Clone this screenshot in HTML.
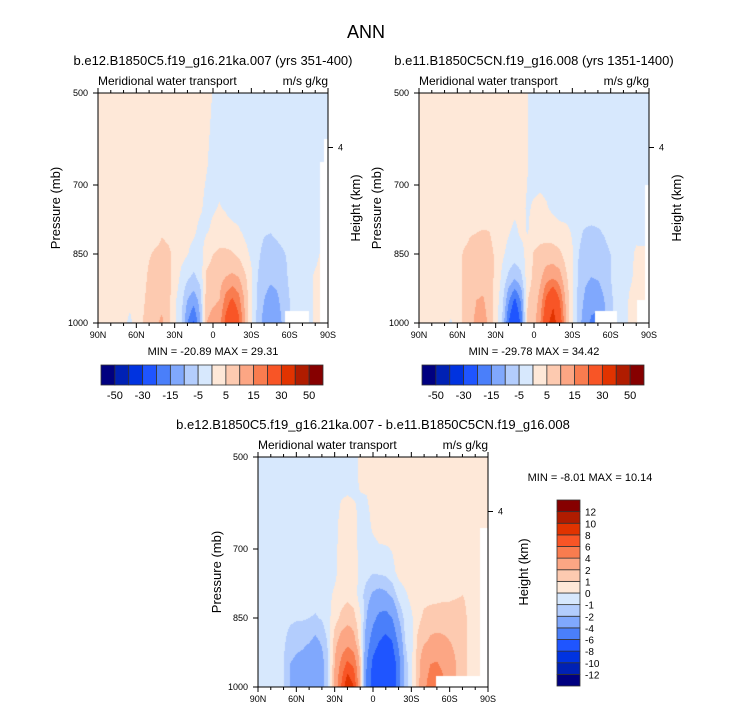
<!DOCTYPE html>
<html><head><meta charset="utf-8">
<style>
html,body{margin:0;padding:0;background:#fff;}
#root{position:relative;width:733px;height:712px;overflow:hidden;font-family:"Liberation Sans",sans-serif;}
canvas{position:absolute;}
svg{position:absolute;left:0;top:0;}
</style></head>
<body>
<div id="root">
<canvas id="c1" width="230" height="230" style="left:98px;top:93px"></canvas>
<canvas id="c2" width="230" height="230" style="left:419px;top:93px"></canvas>
<canvas id="c3" width="230" height="230" style="left:258px;top:457px"></canvas>
<svg id="ov" width="733" height="712"></svg>
</div>
<script>
// ---- data ----
const latDeg = [0,5,10,15,20,25,30,35,40,45,50,55,60,65,70,75,80,85,90,95,100,105,110,115,120,125,130,135,140,145,150,155,160,165,170,175,180];
const pressures = [500,650,750,800,850,900,950,1000];
const levelsAbs = [-50,-40,-30,-20,-15,-10,-5,0,5,10,15,20,30,40,50];
const levelsDiff = [-12,-10,-8,-6,-4,-2,-1,0,1,2,4,6,8,10,12];
const absLabels = ["-50","-30","-15","-5","5","15","30","50"];
const diffLabels = ["-12","-10","-8","-6","-4","-2","-1","0","1","2","4","6","8","10","12"];
const xTickLabels = ["90N","60N","30N","0","30S","60S","90S"];
const yTickLabels = ["500","700","850","1000"];
const palette = ["#000080","#0021b4","#0033e0","#1f55ff","#4a7ffa","#80a8fd","#b3cdfd","#d7e8fd","#fee8d8","#fdcab0","#fca684","#f97c4f","#f85526","#e13300","#b01c00","#860000"];

const field1 = [
[2,2,2,2,2,2,2,2,2,2,2,2,2,2,2,2,2,2,-0.3,-2,-2,-2,-2,-2,-2,-2,-2,-2,-2,-2,-2,-2,-2,-2,-2,-2,-2],
[2,2,2,2,2,2,2,2,2,2,2,2,2,2,2,2,2,0.5,-2,-2,-2,-2,-2,-2,-2,-2,-2,-2,-2,-2,-2,-2,-2,-2,-2,-2,-2],
[2,2,2,2,2,2,2,2,2,2,2,2,2,2,2,2,0.8,-1.5,-0.5,0.3,-0.5,-2,-2,-2,-2,-2,-2,-2,-2,-2,-2,-2,-2,-2,-2,-2,-2],
[2,2,2,2,2,2,2,2,2,2,4.5,3.5,2,2,1.5,1,-1.5,-0.5,1,2,2,1.5,0.5,-1,-2,-3,-4.5,-4.8,-4,-3,-2.5,-2,-2,-2,-2,-2,-2],
[2,2,2,2,2,2,2,3,4.5,6,6.5,6,4,1.5,0.3,-2,-2,3,5,6,6,5.5,4,1.5,-1,-4,-6.5,-7,-6.5,-5.5,-4,-2.5,-1.5,-1,-0.5,0.3,0.5],
[2,2,2,2,2,2,2,3,6,7,7.5,6.5,3,-1,-4,-6,-3,6,7,8,10,11,10,6,1,-5,-8,-9,-8.5,-7,-4,-2,-1,-0.5,0.3,0.5,0.5],
[2,2,2,2,2,1,2,4,7,8,8.5,7,1,-3,-10,-13,-8,8,9,10,17,21,17,9,1,-6,-10,-12,-11,-8,-5,-2,-1,-0.5,0.3,0.5,0.5],
[2,2,2,2,1,-1,2,5,8,9,11,7,1,-4,-15,-21,-10,10,12,13,22,29,22,10,1,-7,-12,-14,-13,-9,-5,-2,-1,-0.5,0.3,0.5,0.5]
];
const field2 = [
[2,2,2,2,2,2,2,2,2,2,2,2,2,2,2,2,2,0.3,-2,-2,-2,-2,-2,-2,-2,-2,-2,-2,-2,-2,-2,-2,-2,-2,-2,-2,-2],
[2,2,2,2,2,2,2,2,2,2,2,2,2,2,2,2,2,0.2,-2,-2,-2,-2,-2,-2,-2,-2,-2,-2,-2,-2,-2,-2,-2,-2,-2,-2,-2],
[2,2,2,2,2,2,2,2,2,2,2,2,2,2,1.5,1,1,-0.5,0.5,1,0.3,-1,-2,-2,-2,-2,-2,-2,-2,-2,-2,-2,-2,-2,-2,-2,-2],
[2,2,2,2,2,2,2,3,4.5,4.8,5.2,5,3,2,0.5,-1,1,-0.3,2,3,3,2.5,1.5,1,-0.5,-4,-5.5,-6,-5.5,-4.5,-3,-2,-2,-1,-0.5,-1,-1],
[2,2,2,2,2,2,3,5.5,6.5,7,7.5,7,4,1,-1.5,-2.5,-1.5,2,5.5,6.5,7,7,6,3,0.5,-5,-7,-8,-7.5,-6.5,-5,-3,-1.5,-0.5,0.3,0.5,0.5],
[2,2,2,2,2,2,3,6,7,7.5,8,7,4,-1,-6,-9,-6,3,6,9,13,14,12,6,1,-6,-9,-10,-9.5,-8,-5,-3,-1,-0.3,0.4,0.5,0.5],
[2,2,2,2,2,2,3,6,8,10,10.5,8,3,-3,-14,-21,-14,5,7,12,22,28,20,9,1,-7,-11,-13,-13,-10,-6,-3,-1,0.3,0.5,0.5,0.5],
[2,2,2,2,1,-0.5,2,6,9,11,12,9,2,-5,-20,-29,-18,6,8,15,28,34,25,10,1,-8,-13,-16,-17,-12,-6,-3,-1,0.3,0.5,0.5,0.5]
];
const field3 = [
[-0.5,-0.5,-0.5,-0.5,-0.5,-0.5,-0.5,-0.5,-0.5,-0.5,-0.5,-0.5,-0.5,-0.5,-0.5,-0.5,0.3,0.5,0.5,0.5,0.5,0.5,0.5,0.5,0.5,0.5,0.5,0.5,0.5,0.5,0.5,0.5,0.5,0.5,0.5,0.5,0.5],
[-0.5,-0.5,-0.5,-0.5,-0.5,-0.5,-0.5,-0.5,-0.5,-0.5,-0.5,-0.5,-0.3,0.3,0.4,0.3,-0.3,-0.4,0.2,0.5,0.5,0.4,0.5,0.5,0.5,0.5,0.5,0.5,0.5,0.5,0.5,0.5,0.5,0.5,0.5,0.5,0.5],
[-0.5,-0.5,-0.5,-0.5,-0.5,-0.5,-0.5,-0.5,-0.5,-0.5,-0.5,-0.5,-0.3,0.5,0.6,0.5,-0.3,-0.6,-0.9,-0.8,-0.7,-0.3,0.3,0.5,0.5,0.5,0.5,0.5,0.5,0.5,0.5,0.5,0.5,0.5,0.5,0.5,0.5],
[-0.5,-0.5,-0.5,-0.5,-0.5,-0.5,-0.5,-0.5,-0.5,-0.6,-0.5,-0.3,0.2,0.6,0.8,0.6,-0.5,-1.5,-2.2,-2.5,-2.3,-1.8,-0.6,-0.2,0.3,0.6,0.7,0.7,0.7,0.8,0.8,0.9,1.0,0.8,0.5,0.5,0.5],
[-0.5,-0.5,-0.5,-0.5,-0.6,-0.8,-0.9,-0.9,-1,-1.1,-0.9,-0.3,0.6,1.2,1.5,1.3,0.2,-2,-3.5,-4.5,-4.8,-4,-2,-0.7,-0.2,0.7,1.2,1.4,1.5,1.5,1.5,1.5,1.4,0.8,0.3,0.5,0.5],
[-0.5,-0.5,-0.5,-0.5,-0.8,-1.4,-1.6,-1.7,-1.9,-2.3,-1.8,-0.8,1.5,2.5,3.2,2.5,0.5,-3,-5,-6,-6.5,-6,-3.5,-1,-0.3,1.2,1.8,2.2,2.3,2.2,2,1.8,1.5,0.8,0.3,0.5,0.5],
[-0.5,-0.5,-0.5,-0.5,-1,-2,-2.3,-2.5,-3,-3.3,-2.5,-1,2,4.5,6.5,5.5,1.5,-4,-6.5,-7.5,-8,-7.5,-5,-1.5,-0.3,1.5,3,4,4.2,3.5,2.5,2,1.5,0.8,0.3,0.5,0.5],
[-0.5,-0.5,-0.5,-0.5,-1,-2,-2.5,-3,-3.5,-3.5,-2.5,-1,2.5,6,10,8,2,-4.5,-7,-8,-8,-7.5,-5,-1.5,-0.3,1.5,3.5,5,5.5,4.5,3,2,1.5,0.8,0.3,0.5,0.5]
];
// missing-data masks: [latFrom, latTo, pFrom, pTo]
const mask1 = [[146,165,975,1000],[174,180,650,1000],[177,180,600,650]];
const mask2 = [[138,155,975,1000],[177,180,700,1000],[171,180,950,1000]];
const mask3 = [[139,180,977,1000],[174,180,655,1000]];

// ---- render ----
function hex(c){return [parseInt(c.substr(1,2),16),parseInt(c.substr(3,2),16),parseInt(c.substr(5,2),16)];}
const rgb = palette.map(hex);
function sample(field, deg, p){
  let j=Math.min(Math.floor(deg/5),latDeg.length-2); let tx=(deg-latDeg[j])/5;
  let i=0; while(i<pressures.length-2 && p>pressures[i+1]) i++;
  let ty=(p-pressures[i])/(pressures[i+1]-pressures[i]);
  const a=field[i][j],b=field[i][j+1],c=field[i+1][j],d=field[i+1][j+1];
  return (a*(1-tx)+b*tx)*(1-ty)+(c*(1-tx)+d*tx)*ty;
}
function draw(id, field, levels, mask){
  const cv=document.getElementById(id), ctx=cv.getContext('2d');
  const W=cv.width,H=cv.height, img=ctx.createImageData(W,H);
  for(let y=0;y<H;y++){ const p=500+(y+0.5)/H*500;
    for(let x=0;x<W;x++){ const deg=(x+0.5)/W*180;
      let col=[255,255,255], masked=false;
      for(const m of mask){ if(deg>=m[0]&&deg<=m[1]&&p>=m[2]&&p<=m[3]) masked=true; }
      if(!masked){ const v=sample(field,deg,p); let k=0; while(k<levels.length && v>=levels[k]) k++; col=rgb[k]; }
      const o=(y*W+x)*4; img.data[o]=col[0];img.data[o+1]=col[1];img.data[o+2]=col[2];img.data[o+3]=255;
    }}
  ctx.putImageData(img,0,0);
}
draw('c1',field1,levelsAbs,mask1);
draw('c2',field2,levelsAbs,mask2);
draw('c3',field3,levelsDiff,mask3);

const NS="http://www.w3.org/2000/svg", ov=document.getElementById('ov');
function el(tag, attrs, parent){ const e=document.createElementNS(NS,tag); for(const k in attrs) e.setAttribute(k,attrs[k]); (parent||ov).appendChild(e); return e; }
function txt(x,y,s,size,anchor,parent,rot){ const t=el('text',{x:x,y:y,'font-size':size,'text-anchor':anchor||'middle','font-family':'Liberation Sans, sans-serif',fill:'#000'},parent); if(rot) t.setAttribute('transform','rotate(-90 '+x+' '+y+')'); t.textContent=s; return t; }

function panel(px,py,name,title,titleY,yTitleX,hTitleX){
  const W=230,H=230;
  const g=el('g',{});
  
  
  const tt=txt(px+W/2,titleY,title,13,'middle',g);
  
  
  const l=txt(px,py-8,'Meridional water transport',12,'start',g);
  
  
  const u=txt(px+W,py-8,'m/s g/kg',12,'end',g);
  
  
  const fr=el('rect',{x:px,y:py,width:W,height:H,fill:'none',stroke:'#000','stroke-width':1},g);
  
  
  for(let d=0; d<=180; d+=10){ const x=px+d/180*W, major=(d%30===0), len=major?5:3;
    el('line',{x1:x,y1:py+H,x2:x,y2:py+H+len,stroke:'#000','stroke-width':1},g);
    el('line',{x1:x,y1:py,x2:x,y2:py-len,stroke:'#000','stroke-width':1},g);
  }
  xTickLabels.forEach((s,i)=>{ const t=txt(px+i*30/180*W,py+H+15,s,9,'middle',g);
    
     });
  const yv=[500,700,850,1000];
  yTickLabels.forEach((s,i)=>{ const y=py+(yv[i]-500)/500*H;
    el('line',{x1:px,y1:y,x2:px-5,y2:y,stroke:'#000','stroke-width':1},g);
    const t=txt(px-10,y+3,s,9,'end',g);
    
     });
  const hy=py+0.237*H;
  el('line',{x1:px+W,y1:hy,x2:px+W+5,y2:hy,stroke:'#000','stroke-width':1},g);
  const h4=txt(px+W+10,hy+3,'4',9,'start',g);
  
  
  const yt=txt(yTitleX,py+H/2,'Pressure (mb)',13,'middle',g,true);
  
  
  const ht=txt(hTitleX,py+H/2,'Height (km)',13,'middle',g,true);
  
  
}
const main=txt(366,38,'ANN',18,'middle');


panel(98,93,'panel-1','b.e12.B1850C5.f19_g16.21ka.007 (yrs 351-400)',65,60,360);
panel(419,93,'panel-2','b.e11.B1850C5CN.f19_g16.008 (yrs 1351-1400)',65,381,681);
panel(258,457,'panel-diff','b.e12.B1850C5.f19_g16.21ka.007 - b.e11.B1850C5CN.f19_g16.008',429,221,528);

function stats(x,y,s,anchor){ const t=txt(x,y,s,11,anchor||'middle');   }
stats(213,355,'MIN = -20.89  MAX = 29.31');
stats(534,355,'MIN = -29.78  MAX = 34.42');
stats(590,481,'MIN =  -8.01  MAX =  10.14');

function hbar(x0,y0,w,h,name){
  const g=el('g',{});
  
  
  const bw=w/palette.length;
  palette.forEach((c,i)=>{ const r=el('rect',{x:x0+i*bw,y:y0,width:bw,height:h,fill:c,stroke:'#333','stroke-width':0.8},g);
    
     });
  absLabels.forEach((s,i)=>{ const t=txt(x0+(1+2*i)*bw,y0+h+14,s,11,'middle',g);
    
     });
}
hbar(101,365,222,20,'colorbar-1');
hbar(422,365,222,20,'colorbar-2');

(function(){
  const x0=557,y0=500,w=23,H=186,g=el('g',{});
  
  
  const bh=H/palette.length;
  palette.forEach((c,i)=>{ const r=el('rect',{x:x0,y:y0+(palette.length-1-i)*bh,width:w,height:bh,fill:c,stroke:'#333','stroke-width':0.8},g);
    
     });
  diffLabels.forEach((s,i)=>{ const y=y0+(palette.length-1-i)*bh;
    const t=txt(x0+w+5,y+4,s,10,'start',g);
    
     });
})();
</script>
</body></html>
